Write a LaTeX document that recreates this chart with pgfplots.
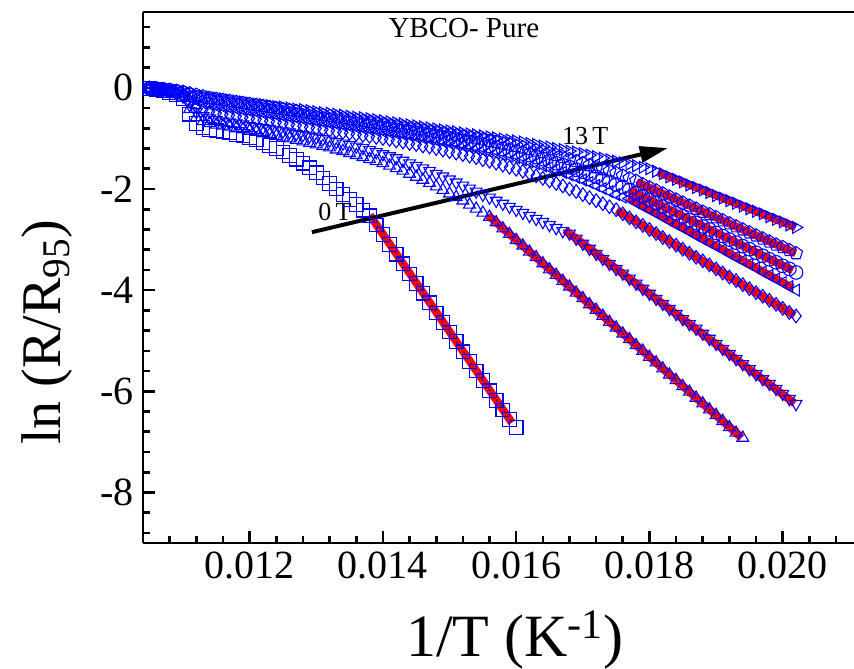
\documentclass[border=0pt]{standalone}
\usepackage{fontspec}
\setmainfont{Liberation Serif}
\usepackage{pgfplots}
\usepackage{pgfplotstable}
\pgfplotsset{compat=1.18}
\usetikzlibrary{arrows.meta}

\pgfplotstableread{
x c0 c2 c3 c4 c5 c6 c7 c8
0.0105 -0.01 -0.01 -0.01 -0.01 -0.01 -0.01 0.00 0.00
0.0106 -0.03 -0.03 -0.03 -0.03 -0.02 -0.02 -0.01 -0.02
0.0107 -0.06 -0.05 -0.05 -0.05 -0.04 -0.03 -0.03 -0.04
0.0108 -0.09 -0.08 -0.08 -0.07 -0.06 -0.05 -0.04 -0.06
0.0109 -0.13 -0.12 -0.11 -0.10 -0.09 -0.07 -0.06 -0.08
0.0110 -0.22 -0.19 -0.17 -0.14 -0.12 -0.10 -0.08 -0.10
0.0111 -0.52 -0.42 -0.34 -0.26 -0.18 -0.14 -0.11 -0.12
0.0112 -0.70 -0.58 -0.48 -0.37 -0.25 -0.19 -0.14 -0.14
0.0113 -0.78 -0.66 -0.56 -0.43 -0.30 -0.23 -0.17 -0.16
0.0114 -0.82 -0.70 -0.60 -0.47 -0.33 -0.26 -0.20 -0.18
0.0115 -0.85 -0.73 -0.63 -0.50 -0.36 -0.29 -0.22 -0.20
0.0116 -0.87 -0.75 -0.66 -0.52 -0.38 -0.31 -0.24 -0.22
0.0117 -0.89 -0.77 -0.68 -0.54 -0.40 -0.33 -0.26 -0.24
0.0118 -0.92 -0.80 -0.70 -0.56 -0.42 -0.35 -0.28 -0.26
0.0119 -0.95 -0.82 -0.72 -0.58 -0.44 -0.37 -0.30 -0.28
0.0120 -0.99 -0.85 -0.75 -0.60 -0.46 -0.39 -0.32 -0.30
0.0121 -1.03 -0.87 -0.77 -0.62 -0.48 -0.41 -0.34 -0.32
0.0122 -1.08 -0.90 -0.79 -0.64 -0.50 -0.43 -0.36 -0.33
0.0123 -1.14 -0.92 -0.81 -0.66 -0.52 -0.45 -0.38 -0.35
0.0124 -1.20 -0.95 -0.84 -0.68 -0.54 -0.47 -0.40 -0.37
0.0125 -1.27 -0.98 -0.86 -0.70 -0.56 -0.49 -0.42 -0.38
0.0126 -1.34 -1.00 -0.88 -0.72 -0.58 -0.51 -0.44 -0.40
0.0127 -1.41 -1.03 -0.91 -0.74 -0.60 -0.53 -0.46 -0.42
0.0128 -1.49 -1.06 -0.93 -0.76 -0.62 -0.55 -0.48 -0.43
0.0129 -1.58 -1.09 -0.96 -0.78 -0.64 -0.57 -0.50 -0.45
0.0130 -1.68 -1.12 -0.98 -0.80 -0.66 -0.59 -0.52 -0.47
0.0131 -1.78 -1.15 -1.01 -0.82 -0.68 -0.61 -0.54 -0.49
0.0132 -1.89 -1.18 -1.04 -0.84 -0.70 -0.63 -0.56 -0.50
0.0133 -2.00 -1.22 -1.07 -0.86 -0.72 -0.65 -0.58 -0.52
0.0134 -2.11 -1.25 -1.10 -0.88 -0.74 -0.67 -0.60 -0.54
0.0135 -2.21 -1.29 -1.13 -0.90 -0.76 -0.69 -0.62 -0.56
0.0136 -2.31 -1.33 -1.16 -0.92 -0.78 -0.71 -0.64 -0.58
0.0137 -2.42 -1.37 -1.19 -0.94 -0.80 -0.73 -0.66 -0.59
0.0138 -2.53 -1.41 -1.23 -0.96 -0.82 -0.75 -0.68 -0.61
0.0139 -2.71 -1.45 -1.27 -0.98 -0.84 -0.77 -0.70 -0.63
0.0140 -2.90 -1.49 -1.31 -1.00 -0.86 -0.79 -0.72 -0.65
0.0141 -3.10 -1.54 -1.35 -1.02 -0.88 -0.81 -0.74 -0.67
0.0142 -3.29 -1.59 -1.39 -1.05 -0.90 -0.83 -0.76 -0.69
0.0143 -3.48 -1.64 -1.44 -1.07 -0.92 -0.85 -0.78 -0.71
0.0144 -3.68 -1.70 -1.49 -1.10 -0.94 -0.87 -0.80 -0.73
0.0145 -3.87 -1.76 -1.54 -1.12 -0.97 -0.89 -0.82 -0.75
0.0146 -4.06 -1.82 -1.59 -1.15 -0.99 -0.91 -0.84 -0.77
0.0147 -4.25 -1.88 -1.64 -1.17 -1.01 -0.93 -0.86 -0.79
0.0148 -4.45 -1.95 -1.70 -1.20 -1.04 -0.95 -0.88 -0.81
0.0149 -4.64 -2.02 -1.75 -1.23 -1.06 -0.98 -0.90 -0.83
0.0150 -4.83 -2.09 -1.81 -1.26 -1.09 -1.00 -0.92 -0.85
0.0151 -5.02 -2.16 -1.87 -1.29 -1.11 -1.02 -0.94 -0.87
0.0152 -5.22 -2.23 -1.93 -1.32 -1.14 -1.05 -0.96 -0.89
0.0153 -5.41 -2.31 -1.99 -1.35 -1.17 -1.07 -0.98 -0.91
0.0154 -5.60 -2.39 -2.05 -1.38 -1.20 -1.10 -1.00 -0.93
0.0155 -5.79 -2.47 -2.11 -1.42 -1.23 -1.12 -1.02 -0.95
0.0156 -5.99 -2.55 -2.17 -1.45 -1.26 -1.15 -1.05 -0.97
0.0157 -6.18 -2.66 -2.23 -1.49 -1.29 -1.18 -1.07 -0.99
0.0158 -6.37 -2.78 -2.29 -1.53 -1.32 -1.21 -1.10 -1.01
0.0159 -6.56 -2.89 -2.35 -1.57 -1.35 -1.24 -1.12 -1.03
0.0160 -6.72 -3.01 -2.41 -1.61 -1.38 -1.27 -1.15 -1.05
0.0161 nan -3.12 -2.47 -1.65 -1.42 -1.30 -1.18 -1.07
0.0162 nan -3.24 -2.53 -1.69 -1.46 -1.33 -1.21 -1.10
0.0163 nan -3.35 -2.59 -1.74 -1.50 -1.37 -1.24 -1.12
0.0164 nan -3.47 -2.65 -1.79 -1.54 -1.41 -1.27 -1.15
0.0165 nan -3.59 -2.71 -1.84 -1.58 -1.45 -1.30 -1.17
0.0166 nan -3.70 -2.77 -1.89 -1.62 -1.49 -1.33 -1.20
0.0167 nan -3.82 -2.83 -1.94 -1.67 -1.53 -1.37 -1.22
0.0168 nan -3.93 -2.88 -2.00 -1.72 -1.57 -1.41 -1.25
0.0169 nan -4.05 -2.98 -2.05 -1.77 -1.62 -1.45 -1.27
0.0170 nan -4.16 -3.08 -2.11 -1.82 -1.66 -1.49 -1.30
0.0171 nan -4.28 -3.18 -2.17 -1.87 -1.71 -1.53 -1.33
0.0172 nan -4.39 -3.28 -2.23 -1.93 -1.76 -1.57 -1.36
0.0173 nan -4.51 -3.38 -2.29 -1.99 -1.81 -1.61 -1.39
0.0174 nan -4.63 -3.48 -2.35 -2.05 -1.86 -1.65 -1.42
0.0175 nan -4.74 -3.58 -2.41 -2.11 -1.91 -1.69 -1.45
0.0176 nan -4.86 -3.67 -2.49 -2.16 -1.96 -1.74 -1.48
0.0177 nan -4.97 -3.77 -2.57 -2.19 -2.02 -1.79 -1.51
0.0178 nan -5.09 -3.87 -2.65 -2.27 -2.09 -1.84 -1.54
0.0179 nan -5.20 -3.97 -2.72 -2.34 -2.15 -1.91 -1.57
0.0180 nan -5.32 -4.07 -2.80 -2.41 -2.22 -1.97 -1.60
0.0181 nan -5.43 -4.17 -2.88 -2.48 -2.28 -2.03 -1.65
0.0182 nan -5.55 -4.27 -2.96 -2.55 -2.35 -2.09 -1.70
0.0183 nan -5.67 -4.37 -3.04 -2.63 -2.41 -2.15 -1.76
0.0184 nan -5.78 -4.47 -3.11 -2.70 -2.48 -2.21 -1.81
0.0185 nan -5.90 -4.57 -3.19 -2.77 -2.54 -2.27 -1.86
0.0186 nan -6.01 -4.67 -3.27 -2.84 -2.61 -2.33 -1.92
0.0187 nan -6.13 -4.76 -3.35 -2.92 -2.67 -2.39 -1.97
0.0188 nan -6.24 -4.86 -3.42 -2.99 -2.74 -2.45 -2.02
0.0189 nan -6.36 -4.96 -3.50 -3.06 -2.80 -2.50 -2.07
0.0190 nan -6.47 -5.06 -3.58 -3.13 -2.87 -2.56 -2.13
0.0191 nan -6.59 -5.16 -3.66 -3.20 -2.93 -2.62 -2.18
0.0192 nan -6.71 -5.26 -3.74 -3.28 -3.00 -2.68 -2.23
0.0193 nan -6.82 -5.36 -3.81 -3.35 -3.06 -2.74 -2.28
0.0194 nan -6.92 -5.46 -3.89 -3.42 -3.13 -2.80 -2.34
0.0195 nan nan -5.56 -3.97 -3.49 -3.19 -2.86 -2.39
0.0196 nan nan -5.66 -4.05 -3.56 -3.26 -2.92 -2.44
0.0197 nan nan -5.76 -4.12 -3.64 -3.32 -2.98 -2.49
0.0198 nan nan -5.85 -4.20 -3.71 -3.39 -3.04 -2.55
0.0199 nan nan -5.95 -4.28 -3.78 -3.45 -3.10 -2.60
0.0200 nan nan -6.05 -4.36 -3.85 -3.52 -3.15 -2.65
0.0201 nan nan -6.15 -4.44 -3.93 -3.58 -3.21 -2.71
0.0202 nan nan -6.25 -4.51 -4.00 -3.65 -3.27 -2.76
}\data

\pgfplotsset{
  dat/.style={only marks, blue, mark size=3.4pt, line width=0.55pt},
  fit/.style={red, line width=4pt, no marks},
  fitdot/.style={blue, line width=0.7pt, dash pattern=on 0.7pt off 2.5pt, no marks},
}

\begin{document}
\begin{tikzpicture}
\useasboundingbox (-71.5pt,-62.5pt) rectangle (355.5pt,271.5pt);
\begin{axis}[
  at={(0,0)}, anchor=south west,
  scale only axis, width=355.5pt, height=265.5pt,
  xmin=0.0104, xmax=0.02107, ymin=-9, ymax=1.5,
  axis x line*=bottom, axis y line*=left,
  axis line style={line width=1.3pt},
  xtick={0.012,0.014,0.016,0.018,0.020},
  xticklabels={0.012,0.014,0.016,0.018,0.020},
  scaled x ticks=false,
  minor xtick={0.0108,0.0112,0.0116,0.0124,0.0128,0.0132,0.0136,0.0144,0.0148,0.0152,0.0156,0.0164,0.0168,0.0172,0.0176,0.0184,0.0188,0.0192,0.0196,0.0204,0.0208},
  ytick={-8,-6,-4,-2,0},
  minor ytick={-8.8,-8.4,-7.6,-7.2,-6.8,-6.4,-5.6,-5.2,-4.8,-4.4,-3.6,-3.2,-2.8,-2.4,-1.6,-1.2,-0.8,-0.4,0.4,0.8,1.2},
  tick align=inside,
  major tick length=6pt, minor tick length=3.5pt,
  every tick/.style={black, line width=1.3pt},
  /pgf/number format/assume math mode=true,
  ticklabel style={font=\fontsize{20}{24}\selectfont},
  yticklabel style={xshift=-1pt},
  xticklabel style={yshift=-1pt},
  xlabel={1/T (K\textsuperscript{-1})},
  ylabel={ln (R/R\textsubscript{95})},
  xlabel style={at={(axis description cs:0.523,-0.183)}, anchor=center, font=\fontsize{30}{36}\selectfont},
  ylabel style={at={(axis description cs:-0.135,0.397)}, anchor=center, font=\fontsize{28}{34}\selectfont},
  clip=true,
]
\addplot[dat, mark=square, mark options={solid, fill=none}] table[x=x, y=c0] {\data};
\addplot[dat, mark=triangle, mark options={solid, fill=none}] table[x=x, y=c2] {\data};
\addplot[dat, mark=triangle, mark options={solid, fill=none, rotate=180}] table[x=x, y=c3] {\data};
\addplot[dat, mark=diamond, mark options={solid, fill=none}] table[x=x, y=c4] {\data};
\addplot[dat, mark=triangle, mark options={solid, fill=none, rotate=90}] table[x=x, y=c5] {\data};
\addplot[dat, mark=o, mark options={solid, fill=none}] table[x=x, y=c6] {\data};
\addplot[dat, mark=pentagon, mark options={solid, fill=none}] table[x=x, y=c7] {\data};
\addplot[dat, mark=triangle, mark options={solid, fill=none, rotate=-90}] table[x=x, y=c8] {\data};

\addplot[fit] coordinates {(0.013805,-2.517) (0.015935,-6.62)};
\addplot[fit] coordinates {(0.015575,-2.517) (0.019385,-6.92)};
\addplot[fit] coordinates {(0.01673,-2.81) (0.02018,-6.24)};
\addplot[fit] coordinates {(0.01751,-2.42) (0.02018,-4.50)};
\addplot[fit] coordinates {(0.01768,-2.18) (0.02015,-3.96)};
\addplot[fit] coordinates {(0.0177,-2.02) (0.02015,-3.61)};
\addplot[fit] coordinates {(0.01781,-1.86) (0.020195,-3.27)};
\addplot[fit] coordinates {(0.018125,-1.665) (0.020195,-2.755)};

\addplot[fitdot] coordinates {(0.013805,-2.517) (0.015935,-6.62)};
\addplot[fitdot] coordinates {(0.015575,-2.517) (0.019385,-6.92)};
\addplot[fitdot] coordinates {(0.01673,-2.81) (0.02018,-6.24)};
\addplot[fitdot] coordinates {(0.01751,-2.42) (0.02018,-4.50)};
\addplot[fitdot] coordinates {(0.01768,-2.18) (0.02015,-3.96)};
\addplot[fitdot] coordinates {(0.0177,-2.02) (0.02015,-3.61)};
\addplot[fitdot] coordinates {(0.01781,-1.86) (0.020195,-3.27)};
\addplot[fitdot] coordinates {(0.018125,-1.665) (0.020195,-2.755)};

\draw[line width=2pt, -{Triangle[length=14pt,width=8pt]}] (axis cs:0.012935,-2.854) -- (axis cs:0.018275,-1.19);
\node[font=\fontsize{13}{15}\selectfont] at (axis cs:0.01328,-2.46) {0\,T};
\node[font=\fontsize{13}{15}\selectfont] at (axis cs:0.017035,-0.95) {13\,T};
\node[font=\fontsize{14.5}{17}\selectfont] at (axis cs:0.015215,1.19) {YBCO- Pure};
\draw[line width=1.3pt] (rel axis cs:0,1) -- (rel axis cs:1,1);
\end{axis}
\end{tikzpicture}
\end{document}
